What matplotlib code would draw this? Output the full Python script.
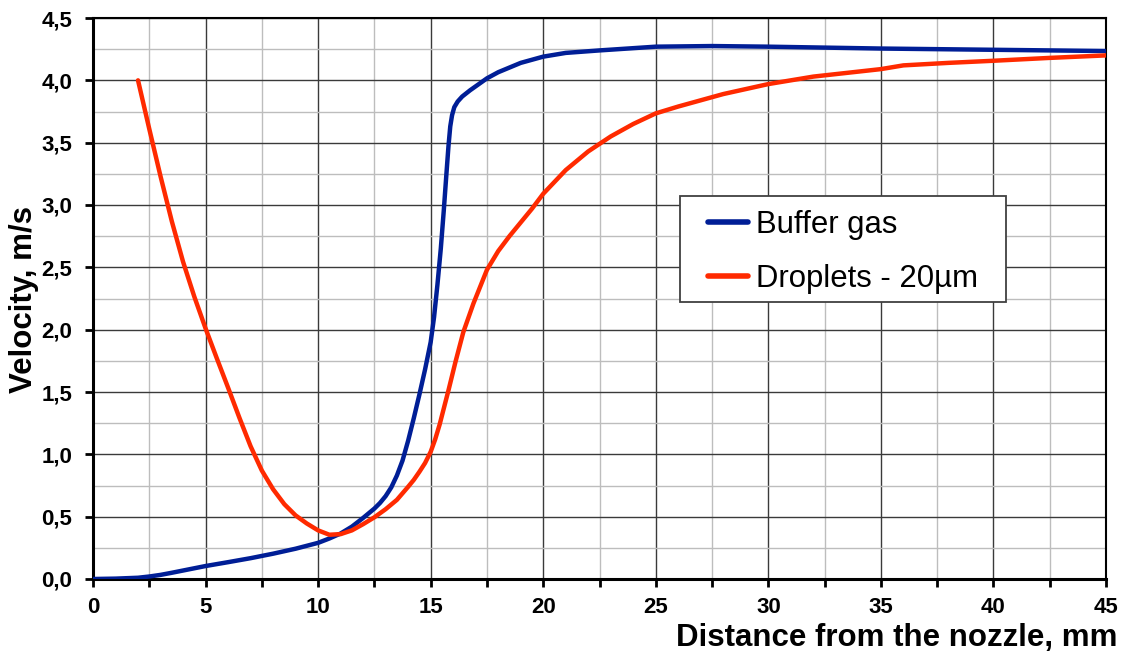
import matplotlib
matplotlib.use("Agg")
import matplotlib.pyplot as plt
from matplotlib.patches import Rectangle
from matplotlib.ticker import MultipleLocator, FuncFormatter

# Buffer gas velocity along the jet axis
gas_x = [0, 1, 2, 2.5, 3, 3.5, 4, 4.5, 5, 6, 7, 8, 9, 10, 10.5, 11, 11.5, 12,
         12.5, 12.75, 13, 13.25, 13.5, 13.75, 14, 14.25, 14.5, 14.75, 15,
         15.15, 15.3, 15.45, 15.58, 15.7, 15.79, 15.87, 15.95, 16.05, 16.2,
         16.4, 16.75, 17.5, 18, 19, 20, 21, 22.5, 25, 27.5, 30, 35, 40, 45]
gas_v = [0, 0.003, 0.01, 0.02, 0.033, 0.05, 0.068, 0.086, 0.104, 0.135, 0.167,
         0.203, 0.243, 0.29, 0.325, 0.365, 0.42, 0.49, 0.565, 0.61, 0.665,
         0.735, 0.83, 0.95, 1.11, 1.29, 1.48, 1.68, 1.9, 2.1, 2.36, 2.65,
         2.95, 3.25, 3.47, 3.63, 3.72, 3.785, 3.83, 3.87, 3.92, 4.016, 4.065,
         4.14, 4.19, 4.22, 4.24, 4.27, 4.275, 4.27, 4.255, 4.245, 4.235]

# 20 um droplet velocity
drop_x = [2, 2.5, 3, 3.5, 4, 4.5, 5, 5.5, 6, 6.5, 7, 7.5, 8, 8.5, 9, 9.5, 10,
          10.5, 11, 11.5, 12, 12.5, 13, 13.5, 14, 14.25, 14.5, 14.75, 15,
          15.2, 15.4, 15.6, 15.8, 16.1, 16.45, 16.9, 17.5, 18, 18.5, 19, 19.5,
          20, 21, 22, 23, 24, 25, 26, 27, 28, 29, 30, 31, 32, 33, 34, 35, 36,
          37, 38, 40, 42.5, 45]
drop_v = [4.0, 3.61, 3.23, 2.87, 2.545, 2.265, 2.01, 1.77, 1.535, 1.295, 1.065,
          0.87, 0.72, 0.60, 0.51, 0.445, 0.39, 0.355, 0.36, 0.39, 0.44, 0.495,
          0.56, 0.635, 0.74, 0.795, 0.86, 0.93, 1.02, 1.12, 1.24, 1.38, 1.52,
          1.74, 1.98, 2.21, 2.48, 2.63, 2.75, 2.86, 2.97, 3.09, 3.28, 3.43,
          3.55, 3.65, 3.735, 3.79, 3.84, 3.89, 3.93, 3.97, 4.0, 4.03, 4.05,
          4.07, 4.09, 4.12, 4.13, 4.14, 4.157, 4.18, 4.20]

series_labels = ["Buffer gas", "Droplets - 20µm"]
x_label = "Distance from the nozzle, mm"
y_label = "Velocity, m/s"

plt.rcParams["font.family"] = ["Liberation Sans", "DejaVu Sans"]

W, H = 1126, 664
fig = plt.figure(figsize=(W / 100, H / 100), dpi=100)
ax = fig.add_axes([93 / W, 1 - 579 / H, (1106 - 93) / W, (579 - 18) / H])

ax.plot(gas_x, gas_v, color="#001E96", lw=3.2, label=series_labels[0],
        solid_capstyle="round", solid_joinstyle="round", zorder=3)
ax.plot(drop_x, drop_v, color="#FF2A00", lw=3.2, label=series_labels[1],
        solid_capstyle="round", solid_joinstyle="round", zorder=3)

ax.set_xlim(0, 45)
ax.set_ylim(0, 4.5)
ax.xaxis.set_major_locator(MultipleLocator(5))
ax.xaxis.set_minor_locator(MultipleLocator(2.5))
ax.yaxis.set_major_locator(MultipleLocator(0.5))
ax.yaxis.set_minor_locator(MultipleLocator(0.25))
ax.yaxis.set_major_formatter(FuncFormatter(lambda v, p: f"{v:.1f}".replace(".", ",")))
ax.xaxis.set_major_formatter(FuncFormatter(lambda v, p: f"{v:.0f}"))

ax.grid(which="major", color="#3a3a3a", lw=1.0, zorder=1)
ax.grid(which="minor", color="#bdbdbd", lw=1.0, zorder=0)
ax.set_axisbelow(True)

ax.tick_params(axis="both", which="major", direction="out", length=6, width=2,
               labelsize=16, pad=9)
ax.tick_params(axis="x", which="major", pad=7)
ax.tick_params(axis="x", which="minor", direction="out", length=6, width=2)
ax.tick_params(axis="y", which="minor", length=0)
for lab in ax.get_xticklabels() + ax.get_yticklabels():
    lab.set_fontweight("bold")

ax.spines["left"].set_linewidth(2.2)
ax.spines["bottom"].set_linewidth(2.2)
ax.spines["top"].set_linewidth(1.5)
ax.spines["right"].set_linewidth(1.5)

fig.text(1117 / W, 1 - 646 / H, x_label, ha="right", va="baseline",
         fontsize=22.5, fontweight="bold")
fig.text(24 / W, 1 - 299 / H, y_label, ha="center", va="center",
         rotation=90, fontsize=22.5, fontweight="bold")

# Legend box drawn as its own rectangle in figure pixels
fig.patches.append(Rectangle((680 / W, 1 - 302 / H), (1006 - 680) / W,
                             (302 - 196) / H, transform=fig.transFigure,
                             facecolor="white", edgecolor="#404040", lw=1.3,
                             zorder=4))
leg = fig.legend(loc="upper left", bbox_to_anchor=(708 / W, 1 - 210 / H),
                 borderaxespad=0, borderpad=0, fontsize=22.4, handlelength=1.3,
                 handletextpad=0.25, labelspacing=0.78, frameon=False)
leg.set_zorder(5)
for h in leg.get_lines():
    h.set_linewidth(4)

fig.savefig("out.png", dpi=100)
